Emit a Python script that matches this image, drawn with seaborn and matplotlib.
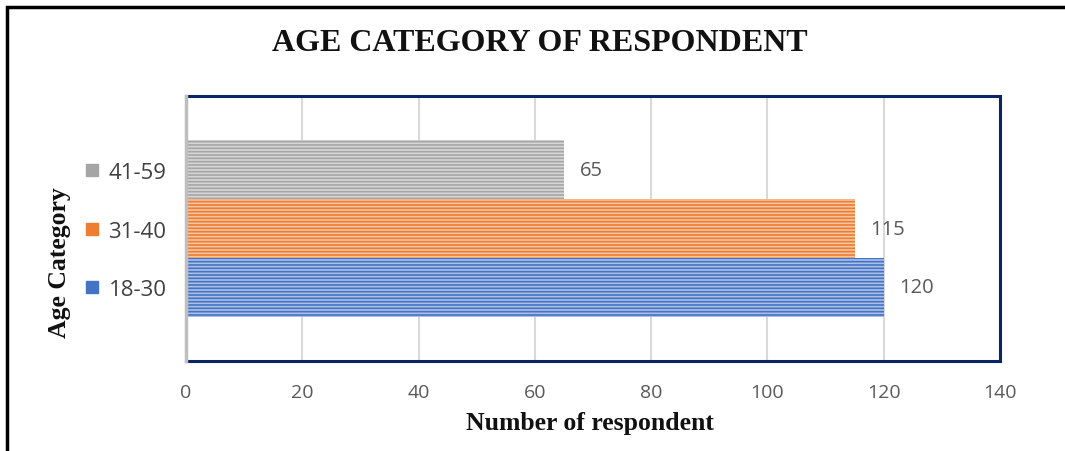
import matplotlib
matplotlib.use('Agg')
import matplotlib.pyplot as plt
import matplotlib.colors as mcolors
from matplotlib.patches import Rectangle
from matplotlib.transforms import blended_transform_factory
import pandas as pd
import seaborn as sns

# data
categories = ['41-59', '31-40', '18-30']
counts = [65, 115, 120]
colors = ['#A5A5A5', '#ED7D31', '#4472C4']
xticks = [0, 20, 40, 60, 80, 100, 120, 140]

sns.set_style('white')
plt.rcParams['font.family'] = ['Open Sans', 'DejaVu Sans']
plt.rcParams['hatch.linewidth'] = 1.2

df = pd.DataFrame({'age': categories, 'n': counts})

fig = plt.figure(figsize=(10.65, 4.52), dpi=100)
ax = fig.add_axes([0.1746, 0.1991, 0.7643, 0.5863])

ax.grid(axis='x', color='#D9D9D9', linewidth=1.5, zorder=0)
ax.set_axisbelow(True)

sns.barplot(data=df, x='n', y='age', hue='age', order=categories,
            hue_order=categories, palette=colors, width=1.0, legend=False,
            orient='h', ax=ax, zorder=2)

# striped fill like the original
for bar, c in zip(ax.patches, colors):
    light = mcolors.to_rgb(c)
    light = tuple(0.45 * v + 0.55 for v in light)
    bar.set_facecolor(light)
    bar.set_edgecolor(c)
    bar.set_linewidth(0)
    bar.set_hatch('-----')

# value labels
for i, v in enumerate(counts):
    ax.text(v + 2.7, i, str(v), va='center', ha='left', fontsize=14.5,
            color='#595959')

ax.set_xlim(0, 140)
ax.set_ylim(3.25, -1.25)
ax.set_xticks(xticks)
ax.set_xticklabels([str(t) for t in xticks])
ax.tick_params(axis='x', length=0, pad=16, labelsize=14, labelcolor='#595959')
ax.tick_params(axis='y', length=0, pad=14, labelsize=16, labelcolor='#404040')
ax.set_xlabel('')
ax.set_ylabel('')

for side in ['top', 'right', 'bottom']:
    ax.spines[side].set_color('#0B2466')
    ax.spines[side].set_linewidth(2.2)
ax.spines['left'].set_color('#BFBFBF')
ax.spines['left'].set_linewidth(2.5)
ax.spines['left'].set_zorder(3)

# legend-key squares beside the category labels
trans = blended_transform_factory(ax.transAxes, ax.transData)
for i, c in enumerate(colors):
    ax.plot([-0.1155], [i], marker='s', markersize=8, color=c,
            transform=trans, clip_on=False)

serif = ['Liberation Serif', 'DejaVu Serif']
fig.text(0.507, 0.903, 'AGE CATEGORY OF RESPONDENT', ha='center', va='center',
         fontsize=23, fontweight='bold', family=serif, color='#111111')
fig.text(0.554, 0.064, 'Number of respondent', ha='center', va='center',
         fontsize=18.5, fontweight='bold', family=serif, color='#111111')
fig.text(0.056, 0.42, 'Age Category', ha='center', va='center', rotation=90,
         fontsize=18.5, fontweight='bold', family=serif, color='#111111')

# outer frame
fig.patches.append(Rectangle((7 / 1065, -0.05), 1.1, 0.05 + 1 - 8 / 452,
                             transform=fig.transFigure, fill=False,
                             edgecolor='black', linewidth=2.5))

fig.savefig('out.png', dpi=100)
